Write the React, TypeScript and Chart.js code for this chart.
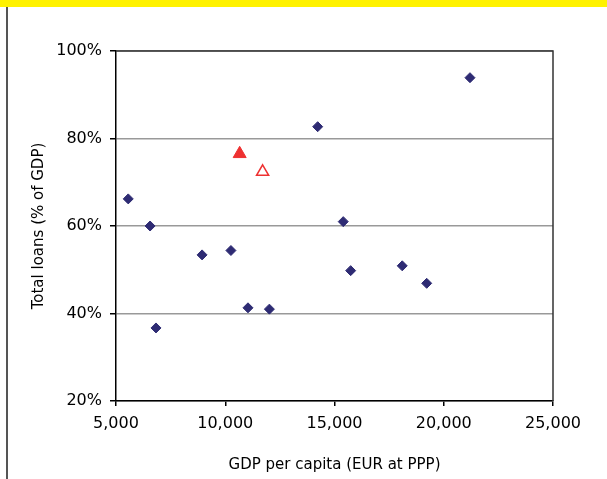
import React, { useEffect, useRef } from "react";
import { Chart, registerables } from "chart.js";

Chart.register(...registerables);

const gdpPerCapita = [5560, 6560, 6830, 8940, 10260, 11040, 12020, 14230, 15400, 15740, 18100, 19220, 21200];
const totalLoans = [66.2, 60.0, 36.7, 53.4, 54.4, 41.3, 41.0, 82.7, 61.0, 49.8, 50.9, 46.9, 93.9];
const highlightFilledX = [10660];
const highlightFilledY = [76.5];
const highlightOpenX = [11710];
const highlightOpenY = [72.4];
const xTicks = [5000, 10000, 15000, 20000, 25000];
const yTicks = [20, 40, 60, 80, 100];
const xTitle = "GDP per capita (EUR at PPP)";
const yTitle = "Total loans (% of GDP)";

const FONT = "'DejaVu Sans', sans-serif";

const borderPlugin = {
  id: "plotBorder",
  afterDraw(chart: any) {
    const { ctx, chartArea } = chart;
    ctx.save();
    ctx.strokeStyle = "#333";
    ctx.lineWidth = 1.5;
    ctx.beginPath();
    ctx.moveTo(chartArea.left, chartArea.top);
    ctx.lineTo(chartArea.right, chartArea.top);
    ctx.lineTo(chartArea.right, chartArea.bottom);
    ctx.stroke();
    ctx.restore();
  },
};

export default function App() {
  const ref = useRef<HTMLCanvasElement>(null);
  useEffect(() => {
    if (!ref.current) return;
    const toPts = (xs: number[], ys: number[]) => xs.map((x, i) => ({ x, y: ys[i] }));
    const chart = new Chart(ref.current, {
      type: "scatter",
      data: {
        datasets: [
          {
            data: toPts(gdpPerCapita, totalLoans),
            pointStyle: "rectRot",
            radius: 5,
            backgroundColor: "#2E2B73",
            borderColor: "#2E2B73",
            borderWidth: 1,
          },
          {
            data: toPts(highlightFilledX, highlightFilledY),
            pointStyle: "triangle",
            radius: 7.5,
            backgroundColor: "#EE3131",
            borderColor: "#EE3131",
            borderWidth: 1,
          },
          {
            data: toPts(highlightOpenX, highlightOpenY),
            pointStyle: "triangle",
            radius: 7,
            backgroundColor: "#FFFFFF",
            borderColor: "#EE3131",
            borderWidth: 1.5,
          },
        ],
      },
      options: {
        animation: false,
        responsive: false,
        layout: { padding: { left: 20, top: 51, right: 54, bottom: 0 } },
        plugins: { legend: { display: false }, tooltip: { enabled: false } },
        scales: {
          x: {
            type: "linear",
            min: xTicks[0],
            max: xTicks[xTicks.length - 1],
            afterFit: (s: any) => { s.height = 78; },
            afterBuildTicks: (s: any) => { s.ticks = xTicks.map((v) => ({ value: v })); },
            ticks: {
              color: "#000",
              font: { family: FONT, size: 16 },
              padding: 8,
              callback: (v: any) => Number(v).toLocaleString("en-US"),
            },
            grid: { drawOnChartArea: false, tickLength: 5, tickColor: "#000", lineWidth: 1.5 },
            border: { color: "#000", width: 1.5 },
            title: { display: true, text: xTitle, color: "#000", font: { family: FONT, size: 15 }, padding: { top: 0, bottom: 5 } },
          },
          y: {
            type: "linear",
            min: yTicks[0],
            max: yTicks[yTicks.length - 1],
            afterFit: (s: any) => { s.width = 96; },
            afterBuildTicks: (s: any) => { s.ticks = yTicks.map((v) => ({ value: v })); },
            ticks: {
              color: "#000",
              font: { family: FONT, size: 16 },
              padding: 8,
              callback: (v: any) => v + "%",
            },
            grid: { color: "#999", lineWidth: 1.5, tickLength: 6, tickColor: "#000" },
            border: { color: "#000", width: 1.5 },
            title: { display: true, text: yTitle, color: "#000", font: { family: FONT, size: 15 }, padding: { top: 10, bottom: 0 } },
          },
        },
      },
      plugins: [borderPlugin],
    });
    return () => chart.destroy();
  }, []);

  return (
    <div style={{ position: "fixed", left: 0, top: 0, width: 607, height: 479, background: "#fff", overflow: "hidden" }}>
      <canvas ref={ref} width={607} height={479} style={{ position: "absolute", left: 0, top: 0, width: 607, height: 479 }} />
      <div style={{ position: "absolute", left: 0, top: 0, width: 607, height: 7, background: "#FFF200" }} />
      <div style={{ position: "absolute", left: 6, top: 7, width: 2, height: 472, background: "#555" }} />
    </div>
  );
}
